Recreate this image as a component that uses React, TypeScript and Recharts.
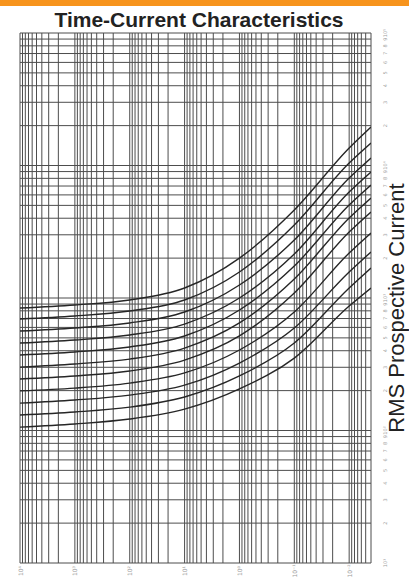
import { LineChart, Line, XAxis, YAxis, CartesianGrid } from "recharts";

// time axis runs right-to-left (rotated fuse chart), current bottom-to-top
const TIME_DECADES = [0.001, 0.01, 0.1, 1, 10, 100, 1000];
const CURRENT_DECADES = [10, 100, 1000, 10000];
const MULTIPLIERS = [1, 2, 3, 4, 5, 6, 7, 8, 9];
const TIME_DOMAIN = [0.004, 10000];
const CURRENT_DOMAIN = [10, 100000];

// seconds at which each curve was read
const timePoints = [10000, 1000, 100, 10, 1, 0.1, 0.01, 0.004];

// prospective current (A) of each fuse curve at the times above
const fuseA = [840, 886, 966, 1190, 2000, 4620, 13560, 19530];
const fuseB = [694, 731, 798, 966, 1571, 3555, 10445, 14780];
const fuseC = [563, 594, 648, 784, 1254, 2740, 8049, 11390];
const fuseD = [457, 482, 526, 636, 1000, 2148, 6310, 8931];
const fuseE = [371, 391, 427, 517, 812, 1743, 5033, 7126];
const fuseF = [301, 318, 346, 419, 648, 1391, 4017, 5684];
const fuseG = [245, 258, 281, 340, 517, 1091, 3148, 4459];
const fuseH = [199, 209, 228, 272, 405, 784, 2186, 3095];
const fuseI = [161, 170, 185, 220, 323, 594, 1571, 2225];
const fuseJ = [131, 138, 150, 179, 258, 457, 1190, 1684];
const fuseK = [106, 112, 122, 145, 206, 352, 870, 1190];

const curves = [fuseA, fuseB, fuseC, fuseD, fuseE, fuseF, fuseG, fuseH, fuseI, fuseJ, fuseK];

const timeTicks = [
  ...TIME_DECADES.flatMap((d) => MULTIPLIERS.map((m) => +(d * m).toPrecision(3))).filter(
    (v) => v >= TIME_DOMAIN[0]
  ),
  TIME_DOMAIN[1],
];
const currentTicks = [
  ...CURRENT_DECADES.flatMap((d) => MULTIPLIERS.map((m) => +(d * m).toPrecision(3))),
  CURRENT_DOMAIN[1],
];

const SUP: Record<string, string> = { "-": "⁻", "0": "⁰", "1": "¹", "2": "²", "3": "³", "4": "⁴", "5": "⁵" };
const sup = (n: number) => String(n).split("").map((c) => SUP[c] ?? c).join("");

function isDecade(v: number) {
  const e = Math.log10(v);
  return Math.abs(e - Math.round(e)) < 1e-6;
}

function TimeTick(props: any) {
  const { x, payload } = props;
  if (!isDecade(payload.value)) return <g />;
  const e = Math.round(Math.log10(payload.value));
  const y = 571;
  return (
    <text
      x={x}
      y={y}
      transform={`rotate(-90 ${x} ${y})`}
      textAnchor="middle"
      dominantBaseline="central"
      fontSize={6}
      fill="#9a9a9a"
      fontFamily="DejaVu Sans"
    >
      {"10" + sup(e)}
    </text>
  );
}

function CurrentTick(props: any) {
  const { x, y, payload } = props;
  const v = payload.value;
  const label = isDecade(v)
    ? "10" + sup(Math.round(Math.log10(v)))
    : String(Math.round(v / 10 ** Math.floor(Math.log10(v))));
  return (
    <text
      x={x + 4}
      y={y}
      transform={`rotate(-90 ${x + 4} ${y})`}
      textAnchor="middle"
      dominantBaseline="hanging"
      fontSize={5}
      fill="#a0a0a0"
      fontFamily="DejaVu Sans"
    >
      {label}
    </text>
  );
}

export default function App() {
  return (
    <div style={{ position: "absolute", left: 0, top: 0, width: 409, height: 582, background: "#fff" }}>
      <LineChart width={409} height={582} margin={{ top: 33, right: 24, bottom: 5, left: 20 }}>
        <CartesianGrid stroke="#4d4d4d" strokeWidth={1} />
        <XAxis
          type="number"
          dataKey="time"
          scale="log"
          domain={TIME_DOMAIN}
          reversed
          allowDataOverflow
          ticks={timeTicks}
          interval={0}
          tick={TimeTick}
          tickLine={false}
          axisLine={false}
          height={14}
        />
        <YAxis
          type="number"
          dataKey="current"
          scale="log"
          orientation="right"
          domain={CURRENT_DOMAIN}
          allowDataOverflow
          ticks={currentTicks}
          interval={0}
          tick={CurrentTick}
          tickLine={false}
          axisLine={false}
          width={14}
        />
        {curves.map((c, i) => (
          <Line
            key={i}
            data={timePoints.map((t, j) => ({ time: t, current: c[j] }))}
            dataKey="current"
            type="monotone"
            stroke="#262626"
            strokeWidth={1.4}
            dot={false}
            isAnimationActive={false}
          />
        ))}
      </LineChart>
      <svg width={409} height={582} style={{ position: "absolute", left: 0, top: 0, pointerEvents: "none" }}>
        <rect x={0} y={0} width={409} height={6} fill="#f7941d" />
        <text
          x={199}
          y={27}
          textAnchor="middle"
          fontFamily="Liberation Sans, Arial, sans-serif"
          fontWeight="bold"
          fontSize={21}
          fill="#222"
        >
          Time-Current Characteristics
        </text>
        <text
          x={404}
          y={308}
          transform="rotate(-90 404 308)"
          textAnchor="middle"
          fontFamily="Liberation Sans, Arial, sans-serif"
          fontSize={22}
          fill="#222"
        >
          RMS Prospective Current
        </text>
      </svg>
    </div>
  );
}
